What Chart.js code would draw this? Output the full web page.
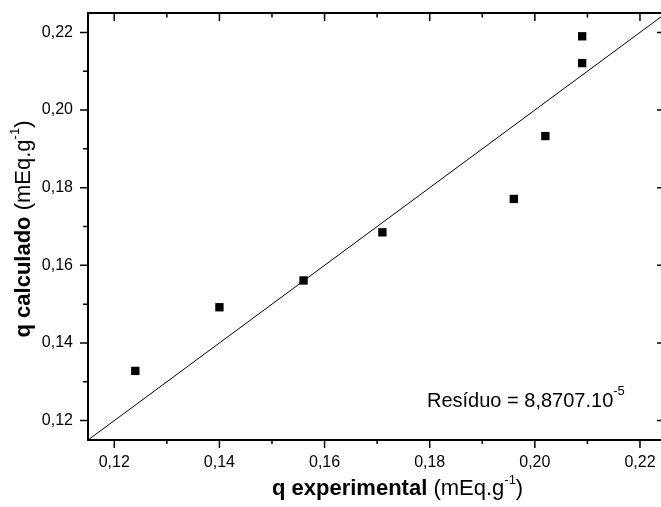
<!DOCTYPE html>
<html>
<head>
<meta charset="utf-8">
<script src="https://cdn.jsdelivr.net/npm/chart.js@4/dist/chart.umd.min.js"></script>
<style>
  html, body { margin: 0; padding: 0; background: #fff; overflow: hidden; }
  #wrap { width: 661px; height: 507px; position: relative; }
</style>
</head>
<body>
<div id="wrap"><canvas id="chart"></canvas></div>
<script>
// Experimental vs calculated sorption capacity (mEq/g)
const qExperimental = [0.124, 0.140, 0.156, 0.171, 0.196, 0.202, 0.209, 0.209]
const qCalculado = [0.1328, 0.1492, 0.1561, 0.1685, 0.1771, 0.1933, 0.2121, 0.2190]

// y = x reference line, drawn across the whole axis range
const identityLine = [0.115, 0.224]

const xMajorTicks = [0.12, 0.14, 0.16, 0.18, 0.20, 0.22]
const xMinorTicks = [0.13, 0.15, 0.17, 0.19, 0.21]
const yMajorTicks = [0.12, 0.14, 0.16, 0.18, 0.20, 0.22]
const yMinorTicks = [0.13, 0.15, 0.17, 0.19, 0.21]

const residuoText = "Resíduo = 8,8707.10"
const residuoExp = "-5"

const FONT = "'Liberation Sans', Arial, sans-serif"

function fmt(v) {
  return v.toFixed(2).replace(".", ",")
}

// draws a run of [text, style] pieces starting at x, returns end x
function drawPieces(ctx, pieces, x, y) {
  pieces.forEach(p => {
    ctx.font = p.font
    ctx.fillText(p.text, x, y + (p.dy || 0))
    x += ctx.measureText(p.text).width
  })
  return x
}

function piecesWidth(ctx, pieces) {
  let w = 0
  pieces.forEach(p => {
    ctx.font = p.font
    w += ctx.measureText(p.text).width
  })
  return w
}

function titlePieces(boldPart) {
  return [
    { text: boldPart, font: `bold 22px ${FONT}` },
    { text: " (mEq.g", font: `22px ${FONT}` },
    { text: "-1", font: `13px ${FONT}`, dy: -11 },
    { text: ")", font: `22px ${FONT}` },
  ]
}

// Frame, ticks, tick labels, axis titles and the residue note
const axesPlugin = {
  id: "originAxes",
  afterDraw(chart) {
    const ctx = chart.ctx
    const { left, right, top, bottom } = chart.chartArea
    const xs = chart.scales.x
    const ys = chart.scales.y

    ctx.save()
    ctx.strokeStyle = "#000"
    ctx.fillStyle = "#000"

    // frame (right side sits on the canvas edge)
    ctx.lineWidth = 2
    ctx.beginPath()
    ctx.moveTo(right, top); ctx.lineTo(left, top)
    ctx.lineTo(left, bottom); ctx.lineTo(right, bottom)
    ctx.stroke()

    ctx.lineWidth = 1.5
    ctx.beginPath()
    xMajorTicks.forEach(v => {
      const px = xs.getPixelForValue(v)
      ctx.moveTo(px, bottom); ctx.lineTo(px, bottom + 8)
      ctx.moveTo(px, top); ctx.lineTo(px, top + 8)
    })
    xMinorTicks.forEach(v => {
      const px = xs.getPixelForValue(v)
      ctx.moveTo(px, bottom); ctx.lineTo(px, bottom + 4)
      ctx.moveTo(px, top); ctx.lineTo(px, top + 4.5)
    })
    yMajorTicks.forEach(v => {
      const py = ys.getPixelForValue(v)
      ctx.moveTo(left - 8, py); ctx.lineTo(left, py)
      ctx.moveTo(right - 4, py); ctx.lineTo(right, py)
    })
    yMinorTicks.forEach(v => {
      const py = ys.getPixelForValue(v)
      ctx.moveTo(left - 5, py); ctx.lineTo(left, py)
    })
    ctx.stroke()

    // tick labels
    ctx.font = `16px ${FONT}`
    ctx.textAlign = "right"
    ctx.textBaseline = "middle"
    yMajorTicks.forEach(v => {
      ctx.fillText(fmt(v), left - 15, ys.getPixelForValue(v))
    })
    ctx.textAlign = "center"
    ctx.textBaseline = "alphabetic"
    xMajorTicks.forEach(v => {
      ctx.fillText(fmt(v), xs.getPixelForValue(v), bottom + 27)
    })

    // axis titles
    ctx.textAlign = "left"
    const xt = titlePieces("q experimental")
    drawPieces(ctx, xt, 272, 495)

    const yt = titlePieces("q calculado")
    ctx.save()
    ctx.translate(30, 229)
    ctx.rotate(-Math.PI / 2)
    drawPieces(ctx, yt, -piecesWidth(ctx, yt) / 2, 0)
    ctx.restore()

    // residue note
    drawPieces(ctx, [
      { text: residuoText, font: `20px ${FONT}` },
      { text: residuoExp, font: `13px ${FONT}`, dy: -12 },
    ], 427, 407)

    ctx.restore()
  },
}

new Chart(document.getElementById("chart"), {
  type: "scatter",
  data: {
    datasets: [
      {
        type: "line",
        data: identityLine.map(v => ({ x: v, y: v })),
        borderColor: "#000",
        borderWidth: 1,
        pointRadius: 0,
        fill: false,
      },
      {
        data: qExperimental.map((x, i) => ({ x, y: qCalculado[i] })),
        pointStyle: "rect",
        pointRadius: 5.9,
        pointBorderWidth: 0,
        backgroundColor: "#000",
        borderColor: "#000",
      },
    ],
  },
  options: {
    responsive: true,
    maintainAspectRatio: false,
    animation: false,
    layout: { autoPadding: false, padding: { left: 88, right: 0, top: 13, bottom: 67 } },
    plugins: { legend: { display: false }, tooltip: { enabled: false } },
    scales: {
      x: { type: "linear", min: 0.115, max: 0.224, display: false },
      y: { type: "linear", min: 0.115, max: 0.225, display: false },
    },
  },
  plugins: [axesPlugin],
})
</script>
</body>
</html>
